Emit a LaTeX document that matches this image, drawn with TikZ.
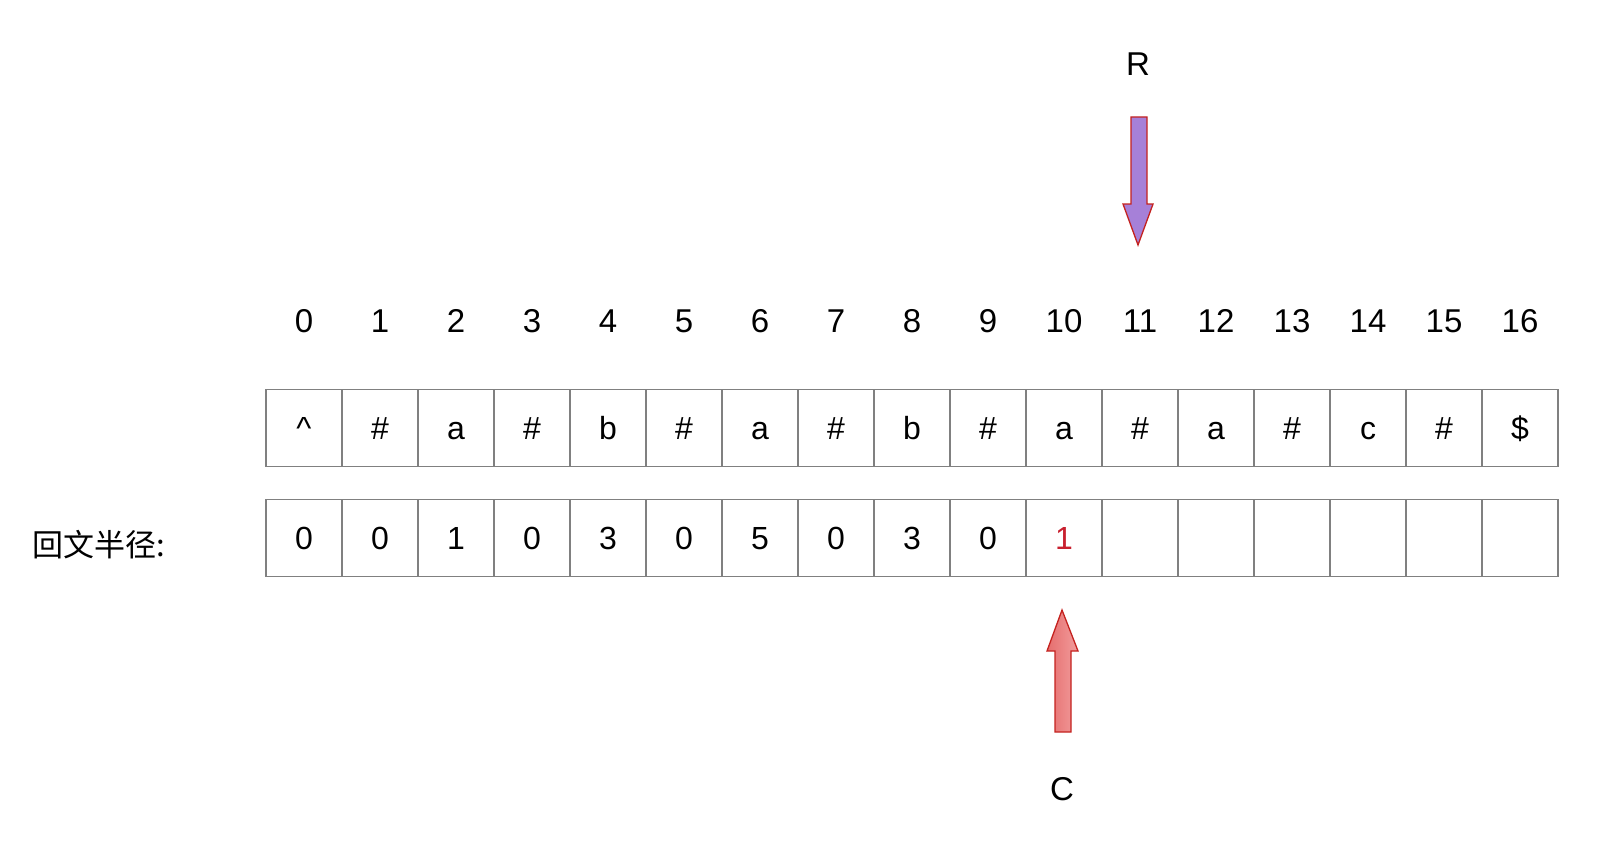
\documentclass[tikz,border=0pt]{standalone}
\usepackage{fontspec}
\setmainfont{Liberation Sans}
\newfontfamily\cjk{Noto Sans CJK SC}
\definecolor{cellgray}{HTML}{808080}
\definecolor{edgered}{HTML}{C4221F}
\definecolor{textred}{HTML}{C8202F}
\definecolor{rpurple}{HTML}{A680D8}
\definecolor{cpinkA}{HTML}{E56E6E}
\definecolor{cpinkB}{HTML}{F29C9C}
\begin{document}
\begin{tikzpicture}[x=1pt, y=-1pt,
    cell/.style={draw=cellgray, line width=1.5pt, minimum width=76pt, minimum height=77pt,
                 inner sep=0pt, text height=23pt, text depth=0pt, font=\fontsize{32}{32}\selectfont},
    idx/.style={inner sep=0pt, text height=24pt, text depth=0pt, font=\fontsize{33}{33}\selectfont}]
    \useasboundingbox (0,0) rectangle (1608,856);

    % Index labels
    \foreach \i in {0,...,16}
        \node[idx] (i\i) at (304+76*\i, 320) {\i};

    % String cells
    \foreach \ch [count=\i from 0] in {\textasciicircum,\#,a,\#,b,\#,a,\#,b,\#,a,\#,a,\#,c,\#,\$}
        \node[cell] (c\i) at (304+76*\i, 428) {\ch};

    % Radius cells
    \foreach \v [count=\i from 0] in {0,0,1,0,3,0,5,0,3,0,\textcolor{textred}{1},{},{},{},{},{},{}}
        \node[cell] (r\i) at (304+76*\i, 538) {\v};

    \node[anchor=west, inner sep=0pt, font=\cjk\fontsize{31}{31}\selectfont] (label) at (32, 545) {回文半径:};

    % Pointers
    \node[idx] (R) at (1138, 64) {R};
    \node[idx] (C) at (1062, 788) {C};
    \draw[edgered, line width=1.3pt, fill=rpurple]
        (1131,117) -- (1147,117) -- (1147,204) -- (1153,204) -- (1138,245)
        -- (1123,204) -- (1131,204) -- cycle;
    \draw[edgered, line width=1.3pt, left color=cpinkA, right color=cpinkB]
        (1055,732) -- (1071,732) -- (1071,651) -- (1078,651) -- (1062,610)
        -- (1047,651) -- (1055,651) -- cycle;
\end{tikzpicture}
\end{document}
